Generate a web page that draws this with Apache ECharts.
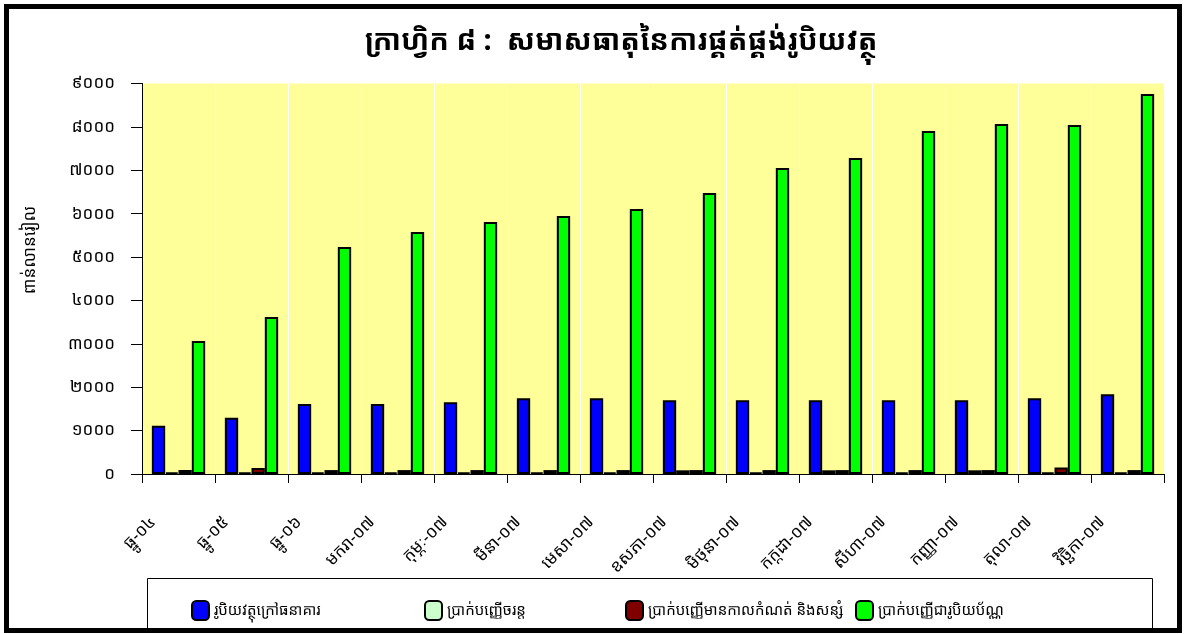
<!DOCTYPE html>
<html>
<head>
<meta charset="utf-8">
<script src="https://cdn.jsdelivr.net/npm/echarts@6/dist/echarts.min.js"></script>
<style>
html,body{margin:0;padding:0;background:#fff;}
#c{width:1184px;height:634px;}
</style>
</head>
<body>
<div id="c"></div>
<script>
var categories = ['ធ្នូ-០៤','ធ្នូ-០៥','ធ្នូ-០៦','មករា-០៧','កុម្ភៈ-០៧','មីនា-០៧','មេសា-០៧','ឧសភា-០៧','មិថុនា-០៧','កក្កដា-០៧','សីហា-០៧','កញ្ញា-០៧','តុលា-០៧','វិច្ឆិកា-០៧'];
var seriesNames = ['រូបិយវត្ថុក្រៅធនាគារ','ប្រាក់បញ្ញើចរន្ត','ប្រាក់បញ្ញើមានកាលកំណត់ និងសន្សំ','ប្រាក់បញ្ញើជារូបិយប័ណ្ណ'];
var currencyOutside = [1113,1298,1613,1613,1652,1745,1745,1698,1698,1698,1698,1698,1745,1837];
var demandDeposits = [35,35,35,35,35,35,35,85,35,85,35,85,35,35];
var timeSavings = [95,140,90,90,90,90,90,90,90,90,90,90,150,90];
var foreignCurrency = [3065,3618,5232,5577,5808,5946,6107,6476,7052,7283,7905,8066,8043,8758];
var yTickLabels = ['០','១០០០','២០០០','៣០០០','៤០០០','៥០០០','៦០០០','៧០០០','៨០០០','៩០០០'];
var titleText = 'ក្រាហ្វិក ៨ :  សមាសធាតុនៃការផ្គត់ផ្គង់រូបិយវត្ថុ';
var yAxisName = 'ពាន់លានរៀល';

var colors = ['#0000FF','#CCFFCC','#800000','#00FF00'];
var FONT = '"Khmer OS","Noto Sans Khmer","Khmer OS System","DejaVu Sans",sans-serif';

var chart = echarts.init(document.getElementById('c'));
var dataSets = [currencyOutside, demandDeposits, timeSavings, foreignCurrency];
var series = dataSets.map(function(d,i){
  return {
    name: seriesNames[i], type: 'bar', data: d,
    barGap: '0%', barCategoryGap: '27%',
    itemStyle: {color: colors[i], borderColor: '#000', borderWidth: 2},
    emphasis: {disabled: true}
  };
});
var legendLefts = [186, 419, 620, 850];
var legends = seriesNames.map(function(n,i){
  return {
    data:[n], left: legendLefts[i], top: 595, itemWidth: 17, itemHeight: 19,
    itemGap: 10, selectedMode: false,
    textStyle: {fontFamily: FONT, fontSize: 15, color: '#000'}
  };
});
chart.setOption({
  animation: false,
  backgroundColor: '#fff',
  title: {text: titleText, left: 360, top: 22,
    textStyle: {fontFamily: FONT, fontSize: 29, fontWeight: 'bold', color: '#000'}},
  legend: legends,
  grid: {left: 142, right: 20, top: 83.5, bottom: 160, show: true, backgroundColor: '#FFFF99', borderWidth: 0},
  xAxis: {
    type: 'category', data: categories,
    axisLine: {lineStyle: {color: '#000', width: 1}},
    axisTick: {show: true, length: 9, lineStyle: {color: '#000'}},
    splitLine: {show: true, lineStyle: {color: '#fff', width: 1}},
    axisLabel: {rotate: 45, margin: 20, padding: [0, 36, 0, 0], interval: 0,
      fontFamily: FONT, fontSize: 17, color: '#000'}
  },
  yAxis: {
    type: 'value', min: 0, max: 9000, interval: 1000,
    axisLine: {show: true, lineStyle: {color: '#000', width: 1}},
    axisTick: {show: true, length: 11, lineStyle: {color: '#000'}},
    splitLine: {show: false},
    axisLabel: {margin: 27, fontFamily: FONT, fontSize: 17, color: '#000',
      formatter: function(v){ return yTickLabels[Math.round(v/1000)]; }}
  },
  series: series,
  graphic: [
    {type:'text', x: 30, y: 250, rotation: Math.PI/2,
      style:{text: yAxisName, font: '17px ' + FONT, fill:'#000', textAlign:'center', textVerticalAlign:'middle'}},
    {type:'rect', shape:{x:147.5, y:578.5, width:1005, height:52}, style:{fill:'none', stroke:'#000', lineWidth:1}, z: -1},
    {type:'rect', shape:{x:6.5, y:6.5, width:1173, height:624}, style:{fill:'none', stroke:'#000', lineWidth:5}, z: 100}
  ]
});
</script>
</body>
</html>
